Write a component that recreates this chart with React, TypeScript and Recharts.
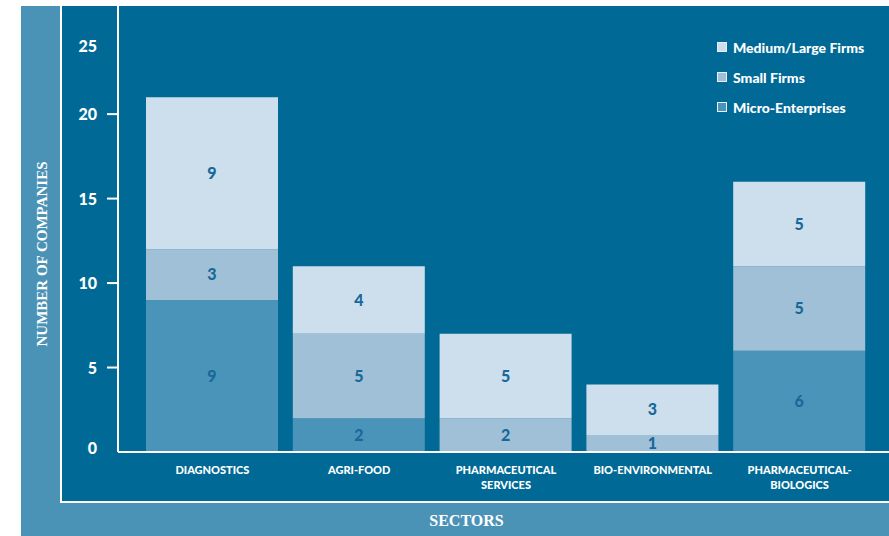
import { BarChart, Bar, XAxis, YAxis, Legend, LabelList, Label } from 'recharts';

const sectors = [
  'DIAGNOSTICS',
  'AGRI-FOOD',
  'PHARMACEUTICAL\nSERVICES',
  'BIO-ENVIRONMENTAL',
  'PHARMACEUTICAL-\nBIOLOGICS',
];
const microEnterprises = [9, 2, 0, 0, 6];
const smallFirms = [3, 5, 2, 1, 5];
const mediumLargeFirms = [9, 4, 5, 3, 5];
const yTicks = [0, 5, 10, 15, 20, 25];
const legendOrder = ['Medium/Large Firms', 'Small Firms', 'Micro-Enterprises'];

const data = sectors.map((sector, i) => ({
  sector,
  micro: microEnterprises[i],
  small: smallFirms[i],
  medium: mediumLargeFirms[i],
}));

const PANEL = '#006996';
const FRAME = '#4a93b7';
const MICRO = '#4b94b9';
const SMALL = '#9fc0d6';
const MEDIUM = '#cddfec';
const VALUE = '#18699a';
const SANS = 'Lato, "Open Sans", sans-serif';
const SERIF = '"Liberation Serif", "DejaVu Serif", serif';
const HEAVY = 900;

const hideZero = (v: any) => (Number(v) ? v : '');

const CountTick = (props: any) => {
  const { x, y, payload } = props;
  const v = payload.value;
  // top label sits a bit lower than its scale position, 0 sits a bit higher
  const ty = v === 25 ? y + 16 : v === 0 ? y - 4 : y;
  return (
    <g>
      {v !== 0 && v !== 25 && (
        <line x1={x + 10} x2={x + 21} y1={y} y2={y} stroke="#fff" strokeWidth={2} />
      )}
      <text
        x={x}
        y={ty}
        dy={6}
        textAnchor="end"
        fill="#fff"
        fontSize={16}
        fontWeight={HEAVY}
        fontFamily={SANS}
      >
        {v}
      </text>
    </g>
  );
};

const SectorTick = (props: any) => {
  const { x, y, payload } = props;
  const lines = String(payload.value).split('\n');
  return (
    <g>
      {lines.map((line, i) => (
        <text
          key={i}
          x={x}
          y={y + 22 + i * 15}
          textAnchor="middle"
          fill="#fff"
          fontSize={11}
          fontWeight={HEAVY}
          fontFamily={SANS}
        >
          {line}
        </text>
      ))}
    </g>
  );
};

const LegendBox = (props: any) => {
  const items = [...(props.payload || [])].sort(
    (a: any, b: any) => legendOrder.indexOf(a.value) - legendOrder.indexOf(b.value),
  );
  return (
    <div>
      {items.map((item: any) => (
        <div
          key={item.value}
          style={{ display: 'flex', alignItems: 'center', height: 30, color: '#fff' }}
        >
          <span
            style={{
              width: 10,
              height: 10,
              background: item.color,
              border: '1px solid #e8f0f6',
              boxSizing: 'border-box',
              marginRight: 6,
            }}
          />
          <span style={{ fontFamily: SANS, fontWeight: HEAVY, fontSize: 14 }}>{item.value}</span>
        </div>
      ))}
    </div>
  );
};

const YTitle = (props: any) => {
  const { viewBox } = props;
  const cx = viewBox.x + 42;
  const cy = viewBox.y + viewBox.height / 2 + 25;
  return (
    <text
      x={cx}
      y={cy}
      transform={`rotate(-90, ${cx}, ${cy})`}
      textAnchor="middle"
      dominantBaseline="central"
      fill="#fff"
      fontSize={15}
      fontWeight={700}
      fontFamily={SERIF}
    >
      NUMBER OF COMPANIES
    </text>
  );
};

const App = () => {
  return (
    <div
      style={{
        position: 'absolute',
        left: 0,
        top: 0,
        width: 889,
        height: 536,
        background: '#fff',
        overflow: 'hidden',
      }}
    >
      <div
        style={{ position: 'absolute', left: 21, top: 6, width: 868, height: 530, background: FRAME }}
      />
      <div
        style={{
          position: 'absolute',
          left: 60,
          top: 6,
          width: 829,
          height: 497,
          background: PANEL,
          borderLeft: '2px solid #fff',
          borderBottom: '2px solid #fff',
          boxSizing: 'border-box',
        }}
      />
      <div style={{ position: 'absolute', left: 0, top: 0 }}>
        <BarChart
          width={889}
          height={536}
          data={data}
          margin={{ top: 6, right: 0, left: 0, bottom: 0 }}
        >
          <XAxis
            dataKey="sector"
            height={84}
            padding={{ left: 21, right: 16 }}
            axisLine={{ stroke: '#fff', strokeWidth: 2 }}
            tickLine={false}
            tickSize={0}
            tickMargin={0}
            interval={0}
            tick={<SectorTick />}
          >
            <Label
              value="SECTORS"
              position="insideBottom"
              offset={10}
              dx={-37}
              fill="#fff"
              fontSize={16}
              fontWeight={700}
              fontFamily={SERIF}
            />
          </XAxis>
          <YAxis
            width={118}
            domain={[0, 26.4]}
            ticks={yTicks}
            allowDataOverflow
            axisLine={{ stroke: '#fff', strokeWidth: 2 }}
            tickLine={false}
            tickSize={11}
            tickMargin={10}
            tick={<CountTick />}
          >
            <Label content={<YTitle />} />
          </YAxis>
          <Legend
            layout="vertical"
            align="center"
            verticalAlign="middle"
            wrapperStyle={{ left: 717, top: 32, width: 170, height: 90 }}
            content={<LegendBox />}
          />
          <Bar
            dataKey="micro"
            name="Micro-Enterprises"
            stackId="a"
            fill={MICRO}
            barSize={132}
            isAnimationActive={false}
          >
            <LabelList
              dataKey="micro"
              position="center"
              formatter={hideZero}
              fill={VALUE}
              fontSize={16}
              fontWeight={HEAVY}
              fontFamily={SANS}
            />
          </Bar>
          <Bar
            dataKey="small"
            name="Small Firms"
            stackId="a"
            fill={SMALL}
            barSize={132}
            isAnimationActive={false}
          >
            <LabelList
              dataKey="small"
              position="center"
              formatter={hideZero}
              fill={VALUE}
              fontSize={16}
              fontWeight={HEAVY}
              fontFamily={SANS}
            />
          </Bar>
          <Bar
            dataKey="medium"
            name="Medium/Large Firms"
            stackId="a"
            fill={MEDIUM}
            barSize={132}
            isAnimationActive={false}
          >
            <LabelList
              dataKey="medium"
              position="center"
              formatter={hideZero}
              fill={VALUE}
              fontSize={16}
              fontWeight={HEAVY}
              fontFamily={SANS}
            />
          </Bar>
        </BarChart>
      </div>
    </div>
  );
};

export default App;
